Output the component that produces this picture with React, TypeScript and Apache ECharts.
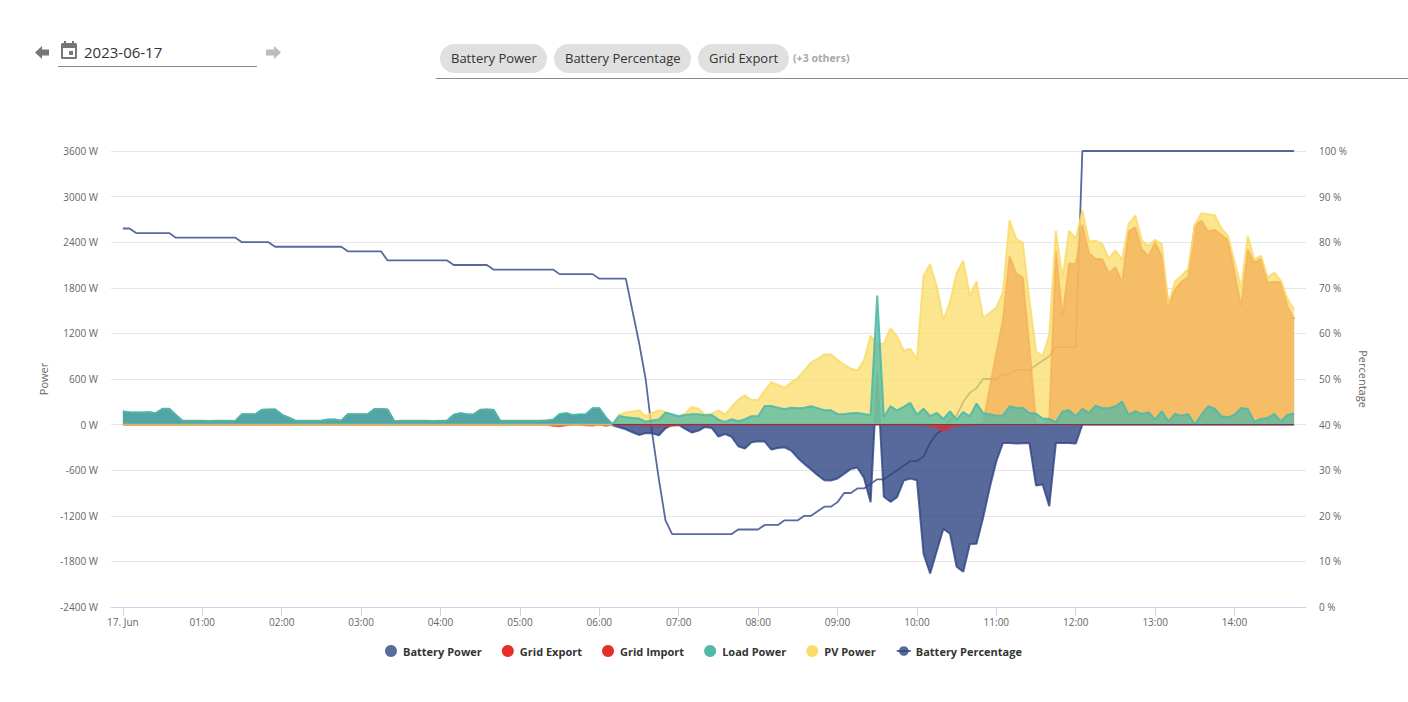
import React, { useEffect, useRef } from "react";
import * as echarts from "echarts";

const STEP_MIN = 5;
const hourLabels = ["17. Jun","01:00","02:00","03:00","04:00","05:00","06:00","07:00","08:00","09:00","10:00","11:00","12:00","13:00","14:00"];
const hourTicks = [0,60,120,180,240,300,360,420,480,540,600,660,720,780,840];
const baselineStart = 370;
const baselineEnd = 885;

const batteryPower = [
168,160,155,155,160,147,205,205,124,47,
47,47,47,45,47,47,47,45,133,133,
133,192,197,197,128,92,52,47,47,47,
47,65,65,47,133,133,133,133,201,201,
197,42,47,49,49,47,47,45,47,47,
128,147,133,128,192,197,192,47,49,47,
47,49,47,47,52,50,125,140,115,125,
128,205,205,85,-9,-35,-61,-101,-136,-110,
-114,-140,-48,-4,-4,-57,-105,-79,-31,-44,
-158,-123,-162,-285,-315,-232,-219,-223,-328,-307,
-298,-342,-438,-517,-591,-666,-731,-736,-710,-648,
-583,-565,-701,-1021,680,-950,-1016,-955,-736,-710,
-731,-1700,-1958,-1664,-1371,-1437,-1870,-1936,-1572,-1568,
-1226,-832,-482,-241,-241,-250,-245,-241,-801,-788,
-1073,-241,-241,-241,-250,0,0,0,0,0,
0,0,0,0,0,0,0,0,0,0,
0,0,0,0,0,0,0,0,0,0,
0,0,0,0,0,0,0,0];

const gridExport = [
0,0,0,0,0,0,0,0,0,0,
0,0,0,0,0,0,0,0,0,0,
0,0,0,0,0,0,0,0,0,0,
0,0,0,0,0,0,0,0,0,0,
0,0,0,0,0,0,0,0,0,0,
0,0,0,0,0,0,0,0,0,0,
0,0,0,0,0,0,0,0,0,0,
0,0,0,0,0,0,0,0,0,0,
0,0,0,0,0,0,0,0,0,0,
0,0,0,0,0,0,0,0,0,0,
0,0,0,0,0,0,0,0,0,0,
0,0,0,0,0,0,0,0,0,0,
0,0,0,0,0,0,0,0,0,0,
20,482,940,1380,2212,1993,1936,1030,20,0,
65,2286,1423,2124,2111,2628,2256,2181,2177,1993,
2072,1870,2540,2597,2308,2212,2396,2212,1568,1774,
1883,1940,2615,2681,2540,2562,2497,2431,1993,1555,
2300,2133,2177,1870,1875,1875,1555,1388];

const gridImport = [
0,0,0,0,0,0,0,0,0,0,
0,0,0,0,0,0,0,0,0,0,
0,0,0,0,0,0,0,0,0,0,
0,0,0,0,0,0,0,0,0,0,
0,0,0,0,0,0,0,0,0,0,
0,0,0,0,0,0,0,0,0,0,
0,0,0,0,0,-15,-22,-10,0,0,
-8,-12,0,-15,0,0,0,0,0,-15,
-15,-15,-15,-15,-10,0,0,0,0,0,
0,0,0,0,0,0,0,0,0,0,
0,0,0,0,0,0,0,0,0,0,
0,0,0,0,0,0,0,0,0,0,
0,0,-15,-35,-80,-35,-15,-5,0,0,
0,0,0,0,0,0,0,0,0,0,
0,0,0,0,0,0,0,0,0,0,
0,0,0,0,0,0,0,0,0,0,
0,0,0,0,0,0,0,0,0,0,
0,0,0,0,0,0,0,0];

const loadPower = [
172,163,158,158,163,150,208,208,127,50,
50,52,50,48,52,50,50,48,136,136,
136,195,200,200,131,95,55,50,50,50,
50,68,68,50,136,136,136,136,204,204,
200,45,50,52,52,50,50,48,50,50,
131,150,136,131,195,200,195,50,52,50,
50,52,50,50,55,68,140,154,127,136,
140,218,218,95,5,114,96,88,79,39,
53,66,158,136,110,127,136,136,123,127,
66,35,70,44,70,110,110,245,245,223,
201,223,215,223,241,215,188,188,140,136,
149,153,140,123,1699,96,241,188,232,285,
131,210,110,153,74,175,66,166,110,276,
153,136,118,118,241,219,219,153,145,79,
74,31,171,188,110,206,153,250,219,215,
241,302,131,175,140,162,66,175,44,140,
118,140,0,131,241,210,110,96,131,219,
206,39,74,88,140,44,127,145];

const pvPower = [
0,0,0,0,0,0,0,0,0,0,
0,0,0,0,0,0,0,0,0,0,
0,0,0,0,0,0,0,0,0,0,
0,0,0,0,0,0,0,0,0,0,
0,0,0,0,0,0,0,0,0,0,
0,0,0,0,0,0,0,0,0,0,
0,0,0,0,0,0,0,0,0,0,
0,0,0,0,0,131,158,171,188,110,
153,188,166,118,110,145,232,206,131,145,
188,131,232,328,385,324,324,447,560,521,
482,556,613,714,819,863,924,924,854,788,
736,714,845,1169,1060,1060,1270,1161,972,999,
854,1958,2111,1818,1380,1612,1993,2155,1695,1883,
1406,1467,1542,1739,2689,2444,2387,1642,964,898,
1183,2549,1927,2549,2453,2816,2409,2418,2378,2186,
2291,2168,2641,2751,2418,2352,2431,2378,1590,1883,
1958,2050,2628,2781,2768,2755,2584,2483,2146,1796,
2483,2168,2225,1936,2002,1892,1651,1511];

const batteryPercentage = [
83,83,82,82,82,82,82,82,81,81,
81,81,81,81,81,81,81,81,80,80,
80,80,80,79,79,79,79,79,79,79,
79,79,79,79,78,78,78,78,78,78,
76,76,76,76,76,76,76,76,76,76,
75,75,75,75,75,75,74,74,74,74,
74,74,74,74,74,74,73,73,73,73,
73,73,72,72,72,72,72,65,58,50,
38,28,19,16,16,16,16,16,16,16,
16,16,16,17,17,17,17,18,18,18,
19,19,19,20,20,21,22,22,23,25,
25,26,26,27,28,28,29,30,31,32,
32,33,36,38,39,41,42,45,47,48,
50,50,50,51,51,52,52,52,53,54,
55,57,57,57,57,100,100,100,100,100,
100,100,100,100,100,100,100,100,100,100,
100,100,100,100,100,100,100,100,100,100,
100,100,100,100,100,100,100,100];

const FONT = '"Open Sans"';
const toXY = (vals: number[]) => vals.map((v, i) => [i * STEP_MIN, v]);

const chip = (x: number, w: number, label: string) => [
  { type: "rect", shape: { x, y: 44, width: w, height: 29, r: 14.5 }, style: { fill: "#e0e0e0" } },
  { type: "text", style: { text: label, x: x + 11, y: 58, font: `13px ${FONT}`, fill: "#333333", textVerticalAlign: "middle" } },
];

const area = (name: string, vals: number[], rgb: string, fillA: number, lineA: number, z: number, legendColor: string) => ({
  name,
  type: "line",
  data: toXY(vals),
  yAxisIndex: 0,
  z,
  symbol: "none",
  showSymbol: false,
  lineStyle: { color: `rgba(${rgb},${lineA})`, width: 2 },
  itemStyle: { color: legendColor },
  areaStyle: { color: `rgba(${rgb},${fillA})`, origin: "auto", opacity: 1 },
});

const legendItems = ["Battery Power", "Grid Export", "Grid Import", "Load Power", "PV Power"];

export default function App() {
  const ref = useRef<HTMLDivElement>(null);
  useEffect(() => {
    const chart = echarts.init(ref.current!, undefined, { renderer: "svg" });
    chart.setOption({
      animation: false,
      backgroundColor: "#ffffff",
      textStyle: { fontFamily: FONT },
      grid: { left: 111, right: 102, top: 151, bottom: 95 },
      legend: {
        left: 380,
        top: 640,
        itemWidth: 14,
        itemHeight: 12,
        itemGap: 20,
        textStyle: { fontFamily: FONT, fontSize: 11, fontWeight: "bold", color: "#333333" },
        data: [
          ...legendItems.map((name) => ({ name, icon: "circle" })),
          { name: "Battery Percentage" },
        ],
      },
      xAxis: {
        type: "value",
        min: -9,
        max: 894,
        axisLine: { show: true, onZero: false, lineStyle: { color: "#ccd6eb", width: 1 } },
        axisTick: { show: true, length: 9, customValues: hourTicks, lineStyle: { color: "#ccd6eb" } },
        axisLabel: {
          customValues: hourTicks,
          margin: 10,
          fontSize: 10,
          color: "#666666",
          fontFamily: FONT,
          formatter: (v: number) => hourLabels[Math.round(v / 60)],
        },
        splitLine: { show: false },
      },
      yAxis: [
        {
          type: "value",
          min: -2400,
          max: 3600,
          interval: 600,
          name: "Power",
          nameLocation: "middle",
          nameGap: 59,
          nameTextStyle: { fontSize: 11, color: "#666666", fontFamily: FONT },
          axisLine: { show: false },
          axisTick: { show: false },
          axisLabel: { margin: 13, fontSize: 10, padding: [0, 0, 2, 0], color: "#666666", fontFamily: FONT, formatter: (v: number) => `${v} W`, align: "right" },
          splitLine: { show: true, lineStyle: { color: "#e6e6e6", width: 1 } },
        },
        {
          type: "value",
          min: 0,
          max: 100,
          interval: 10,
          name: "Percentage",
          nameLocation: "middle",
          nameRotate: -90,
          nameGap: 51,
          nameTextStyle: { fontSize: 11, color: "#666666", fontFamily: FONT },
          axisLine: { show: false },
          axisTick: { show: false },
          axisLabel: { margin: 13, fontSize: 10, padding: [0, 0, 2, 0], color: "#666666", fontFamily: FONT, formatter: (v: number) => `${v} %` },
          splitLine: { show: false },
        },
      ],
      series: [
        area("Battery Power", batteryPower, "46,69,131", 0.8, 0.8, 2, "#5a6b9b"),
        area("Grid Export", gridExport, "229,46,42", 0.75, 0.75, 4, "#e52e2a"),
        area("Grid Import", gridImport, "229,46,42", 0.75, 0.75, 4, "#e52e2a"),
        {
          ...area("Load Power", loadPower, "80,185,167", 0.75, 0.9, 6, "#50b9a7"),
          markLine: {
            silent: true,
            animation: false,
            symbol: "none",
            z: 7,
            label: { show: false },
            lineStyle: { color: "rgba(80,55,95,0.85)", width: 1.2, type: "solid" },
            data: [[{ coord: [baselineStart, 0] }, { coord: [baselineEnd, 0] }]],
          },
        },
        area("PV Power", pvPower, "249,220,106", 0.75, 0.85, 5, "#f9dc6a"),
        {
          name: "Battery Percentage",
          type: "line",
          yAxisIndex: 1,
          z: 3,
          data: toXY(batteryPercentage),
          symbol: "circle",
          symbolSize: 6,
          showSymbol: false,
          lineStyle: { color: "rgba(46,69,131,0.8)", width: 1.8 },
          itemStyle: { color: "rgba(46,69,131,0.8)" },
        },
      ],
      graphic: [
        { type: "polygon", shape: { points: [[35, 52.5], [42, 46], [42, 49.5], [49, 49.5], [49, 55.5], [42, 55.5], [42, 59]] }, style: { fill: "#777777" } },
        { type: "rect", shape: { x: 61, y: 43, width: 16, height: 16, r: 1.5 }, style: { fill: "#757575" } },
        { type: "rect", shape: { x: 63, y: 48, width: 12, height: 9 }, style: { fill: "#ffffff" } },
        { type: "rect", shape: { x: 64, y: 41, width: 2, height: 4 }, style: { fill: "#757575" } },
        { type: "rect", shape: { x: 72, y: 41, width: 2, height: 4 }, style: { fill: "#757575" } },
        { type: "rect", shape: { x: 69, y: 51, width: 4, height: 4 }, style: { fill: "#757575" } },
        { type: "text", style: { text: "2023-06-17", x: 84, y: 51.5, font: `15px ${FONT}`, fill: "#333333", textVerticalAlign: "middle" } },
        { type: "rect", shape: { x: 58, y: 66, width: 199, height: 1 }, style: { fill: "#8a8a8a" } },
        { type: "polygon", shape: { points: [[281, 52.5], [274, 46], [274, 49.5], [266, 49.5], [266, 55.5], [274, 55.5], [274, 59]] }, style: { fill: "#bdbdbd" } },
        ...chip(440, 107, "Battery Power"),
        ...chip(554, 137, "Battery Percentage"),
        ...chip(698, 91, "Grid Export"),
        { type: "text", style: { text: "(+3 others)", x: 793, y: 58, font: `bold 10.6px ${FONT}`, fill: "#a8a8a8", textVerticalAlign: "middle" } },
        { type: "rect", shape: { x: 436, y: 78, width: 972, height: 1 }, style: { fill: "#8a8a8a" } },
      ],
    });
    return () => chart.dispose();
  }, []);
  return <div ref={ref} style={{ position: "absolute", left: 0, top: 0, width: 1408, height: 702 }} />;
}
